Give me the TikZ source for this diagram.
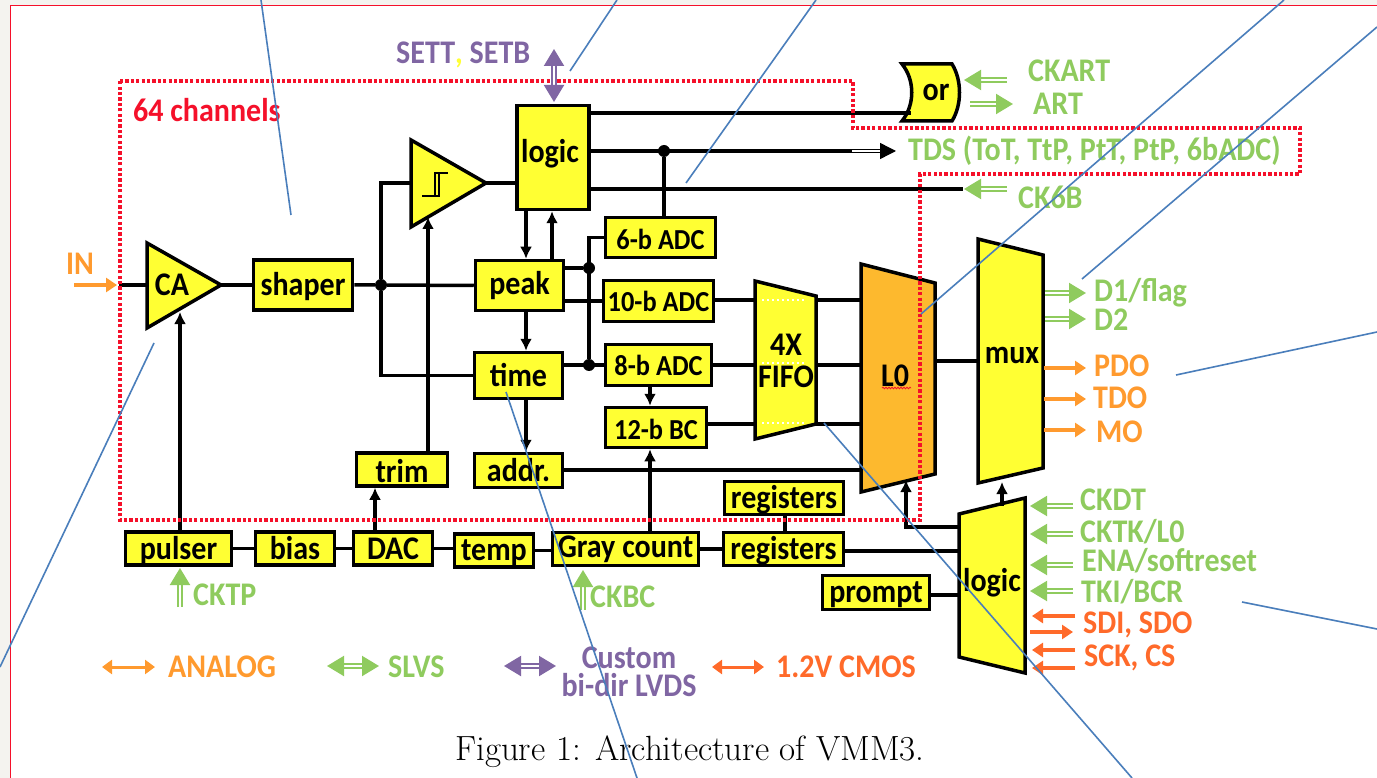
\documentclass[tikz,border=0pt]{standalone}
\usepackage{fontspec}
\usepackage{xcolor}
\usepackage{tikz}
\usetikzlibrary{arrows.meta,decorations.pathmorphing}
\setsansfont[FakeStretch=0.91]{Carlito}
\definecolor{chipyellow}{HTML}{FFFF33}
\definecolor{latchorange}{HTML}{FDB92E}
\definecolor{slvsgreen}{HTML}{8FCB5E}
\definecolor{analogorange}{HTML}{FF9A2E}
\definecolor{cmosorange}{HTML}{FF6A2A}
\definecolor{lvdspurple}{HTML}{8066A3}
\definecolor{channelred}{HTML}{F5102A}
\definecolor{noteblue}{HTML}{4A7EBB}
\definecolor{sheetgrey}{HTML}{F4F3EF}
\newcommand{\lowered}[1]{\raisebox{-2pt}[\height][\depth]{#1}}
\tikzset{
  blockbox/.style={draw=black,fill=chipyellow,line width=3.5pt,inner sep=0pt,font=\sffamily\bfseries\fontsize{33}{33}\selectfont},
  adcbox/.style={blockbox,font=\sffamily\bfseries\fontsize{29}{29}\selectfont},
  blockshape/.style={draw=black,fill=chipyellow,line width=3.5pt,line join=miter},
  blocktext/.style={inner sep=0pt,align=center,font=\sffamily\bfseries\fontsize{33}{28}\selectfont},
  wire/.style={draw=black,line width=3.5pt},
  wirearrow/.style={wire,-{Latex[length=12pt,width=12pt]}},
  junction/.style={circle,fill=black,inner sep=0pt,minimum size=12pt},
  siglabel/.style={anchor=west,inner sep=0pt,font=\sffamily\bfseries\fontsize{33}{33}\selectfont},
  slvsarrow/.style={draw=slvsgreen,line width=2pt,double=white,double distance=2pt,-{Triangle[length=17pt,width=20pt]}},
  slvsboth/.style={slvsarrow,{Triangle[length=17pt,width=20pt]}-{Triangle[length=17pt,width=20pt]}},
  lvdsboth/.style={draw=lvdspurple,line width=2pt,double=white,double distance=2pt,{Triangle[length=17pt,width=20pt]}-{Triangle[length=17pt,width=20pt]}},
  singlearrow/.style={line width=3.5pt,-{Triangle[length=11pt,width=14pt]}},
  singleboth/.style={line width=3pt,{Triangle[length=10pt,width=14pt]}-{Triangle[length=10pt,width=14pt]}},
  noteline/.style={draw=noteblue,line width=1.6pt}
}
\begin{document}
\begin{tikzpicture}[x=1pt,y=-1pt]
  \useasboundingbox (0,0) rectangle (1377,778);
  \fill[sheetgrey] (0,0) rectangle (1377,778);
  \fill[white] (10,6) rectangle (1377,778);
  \draw[channelred,line width=1pt] (10,778) -- (10,6) -- (1377,6);

  % analog shapes
  \draw[blockshape] (147,243) -- (221,285) -- (147,328) -- cycle;
  \draw[blockshape] (411,140) -- (486,183) -- (411,227) -- cycle;
  \draw[black,line width=2.6pt] (422,196) -- (439,196) -- (439,173);
  \draw[black,line width=2.6pt] (435,196) -- (435,173) -- (448,173);
  \draw[blockshape] (755,281) -- (816,296) -- (816,424) -- (755,439) -- cycle;
  \draw[blockshape,fill=latchorange] (861,264) -- (935,283) -- (935,474) -- (861,492) -- cycle;
  \draw[blockshape] (978,239) -- (1043,255) -- (1043,468) -- (978,483) -- cycle;
  \draw[blockshape] (959,514) -- (1025,498) -- (1025,673) -- (959,657) -- cycle;
  \draw[blockshape] (902,64) .. controls (915,80) and (915,105) .. (902,121) -- (952,121)
      .. controls (962,105) and (962,80) .. (952,64) -- cycle;

  \draw[white,line width=2pt,dash pattern=on 2pt off 3pt] (762,300) -- (806,300);
  \draw[white,line width=2pt,dash pattern=on 2pt off 3pt] (762,363) -- (806,363);
  \draw[white,line width=2pt,dash pattern=on 2pt off 3pt] (762,423) -- (806,423);

  % blocks
  \node[blockbox,minimum width=72pt,minimum height=104pt] (chlogic) at (553,157.5) {};
  \node[blocktext] (chlogict) at (550,154) {logic};
  \node[blockbox,minimum width=99pt,minimum height=50pt] (shaper) at (303,285) {\lowered{shaper}};
  \node[blockbox,minimum width=88pt,minimum height=50pt] (peak) at (519.5,285.5) {peak};
  \node[blockbox,minimum width=88pt,minimum height=46pt] (time) at (518.5,375.5) {time};
  \node[adcbox,minimum width=110pt,minimum height=40pt] (adcsix) at (660.5,237.5) {\lowered{6-b ADC}};
  \node[adcbox,minimum width=110pt,minimum height=41pt] (adcten) at (658.5,301) {10-b ADC};
  \node[adcbox,minimum width=106pt,minimum height=41pt] (adceight) at (658.5,365) {8-b ADC};
  \node[adcbox,minimum width=101pt,minimum height=40pt] (bctwelve) at (656,427.5) {\lowered{12-b BC}};
  \node[blockbox,minimum width=91pt,minimum height=33pt] (trim) at (402,469.5) {\lowered{trim}};
  \node[blockbox,minimum width=88pt,minimum height=34pt] (addr) at (518.5,470.5) {addr.};
  \node[blockbox,minimum width=106pt,minimum height=33pt] (pulser) at (178.5,548.5) {\lowered{pulser}};
  \node[blockbox,minimum width=79pt,minimum height=33pt] (bias) at (295,548.5) {bias};
  \node[blockbox,minimum width=79pt,minimum height=33pt] (dac) at (393,548.5) {DAC};
  \node[blockbox,minimum width=79pt,minimum height=33pt] (temp) at (494,550.5) {\lowered{temp}};
  \node[blockbox,minimum width=146pt,minimum height=33pt] (gray) at (625.5,549) {Gray count};
  \node[blockbox,minimum width=119pt,minimum height=33pt] (regtop) at (784,498) {\lowered{registers}};
  \node[blockbox,minimum width=120pt,minimum height=33pt] (regbot) at (783.5,549) {\lowered{registers}};
  \node[blockbox,minimum width=107pt,minimum height=34pt] (prompt) at (876,592.5) {\lowered{prompt}};

  \node[blocktext] (ca) at (172,285) {CA};
  \node[blocktext] (orgate) at (936,92) {or};
  \node[blocktext] (fifo) at (786,365) {\begin{tabular}{@{}c@{}}4X\\[1pt]FIFO\end{tabular}};
  \node[blocktext] (latch) at (895,376) {L0};
  \node[blocktext] (mux) at (1012,355) {mux};
  \node[blocktext] (ctrl) at (992,583) {logic};
  \draw[channelred,line width=0.8pt,decorate,decoration={snake,amplitude=0.8pt,segment length=3pt}] (882,388) -- (911,388);

  % free ends of wires
  \coordinate (cain) at (147,285);
  \coordinate (caout) at (221,285);
  \coordinate (cabot) at (180,312);
  \coordinate (cmpin) at (411,183);
  \coordinate (cmpout) at (486,183);
  \coordinate (cmpbot) at (428,217);
  \coordinate (inleft) at (119,285);
  \coordinate (orin) at (911,113);
  \coordinate (tdsend) at (852,151);
  \coordinate (tdstip) at (896,151);
  \coordinate (sixbend) at (963,189);
  \coordinate (fifotop) at (755,300);
  \coordinate (fifomid) at (755,365);
  \coordinate (fifolow) at (755,424);
  \coordinate (fifotopr) at (816,300);
  \coordinate (fifomidr) at (816,365);
  \coordinate (fifolowr) at (816,424);
  \coordinate (l0topl) at (861,300);
  \coordinate (l0midl) at (861,365);
  \coordinate (l0lowl) at (861,424);
  \coordinate (l0addr) at (861,470);
  \coordinate (l0out) at (935,361);
  \coordinate (muxin) at (978,361);
  \coordinate (l0bot) at (906,480);
  \coordinate (ctrlup) at (1002,506);
  \coordinate (muxbot) at (1002,482);
  \coordinate (ctrlone) at (959,527);
  \coordinate (ctrlbend) at (906,527);
  \coordinate (ctrltwo) at (959,551);
  \coordinate (ctrlthree) at (959,595);

  \node[junction] (splitdot) at (381,285) {};
  \node[junction] (peakdot) at (589,268) {};
  \node[junction] (timedot) at (589,365) {};
  \node[junction] (tdsdot) at (664,151) {};

  % wires
  \draw[wire] (inleft) -- (cain);
  \draw[wire] (caout) -- (shaper.west);
  \draw[wire] (shaper.east) -- (splitdot) -- (peak.west);
  \draw[wire] (cmpin) -| (splitdot);
  \draw[wire] (splitdot) |- (time.west);
  \draw[wire] (cmpout) -- (chlogic.west |- cmpout);
  \draw[wirearrow] (chlogic.south -| 526,0) -- (peak.north -| 526,0);
  \draw[wirearrow] (peak.north -| 552,0) -- (chlogic.south -| 552,0);
  \draw[wirearrow] (peak.south -| 526,0) -- (time.north -| 526,0);
  \draw[wirearrow] (time.south -| 526,0) -- (addr.north -| 526,0);
  \draw[wirearrow] (trim.north -| cmpbot) -- (cmpbot);
  \draw[wirearrow] (pulser.north -| cabot) -- (cabot);
  \draw[wirearrow] (dac.north -| 375,0) -- (trim.south -| 375,0);
  \draw[wire] (peak.east |- peakdot) -- (peakdot);
  \draw[wire] (peak.east |- adcten) -- (adcten.west);
  \draw[wire] (adcsix.west) -| (timedot);
  \draw[wire] (time.east |- timedot) -- (adceight.west |- timedot);
  \draw[wire] (chlogic.east |- orin) -- (orin);
  \draw[wire] (chlogic.east |- tdsdot) -- (tdsend);
  \draw[wire] (chlogic.east |- sixbend) -- (sixbend);
  \draw[wire] (tdsdot) -- (adcsix.north -| tdsdot);
  \draw[black,line width=1.4pt,double=white,double distance=1.4pt,-{Triangle[length=16pt,width=16pt]}] (tdsend) -- (tdstip);
  \draw[wirearrow] (adceight.south -| 650,0) -- (bctwelve.north -| 650,0);
  \draw[wirearrow] (gray.north -| 650,0) -- (bctwelve.south -| 650,0);
  \draw[wire] (adcten.east |- fifotop) -- (fifotop);
  \draw[wire] (adceight.east |- fifomid) -- (fifomid);
  \draw[wire] (bctwelve.east |- fifolow) -- (fifolow);
  \draw[wire] (fifotopr) -- (l0topl);
  \draw[wire] (fifomidr) -- (l0midl);
  \draw[wire] (fifolowr) -- (l0lowl);
  \draw[wire] (addr.east |- l0addr) -- (l0addr);
  \draw[wire] (l0out) -- (muxin);
  \draw[wirearrow] (ctrlup) -- (muxbot);
  \draw[wirearrow] (ctrlone) -- (ctrlbend) -- (l0bot);
  \draw[wire] (pulser.east) -- (bias.west);
  \draw[wire] (bias.east) -- (dac.west);
  \draw[wire] (dac.east) -- (temp.west |- dac);
  \draw[wire] (temp.east) -- (gray.west |- temp);
  \draw[wire] (gray.east) -- (regbot.west);
  \draw[wire] (regbot.east |- ctrltwo) -- (ctrltwo);
  \draw[wire] (regtop.south -| 785,0) -- (regbot.north -| 785,0);
  \draw[wire] (prompt.east |- ctrlthree) -- (ctrlthree);

  % boundary of one channel
  \draw[channelred,line width=3.2pt,dash pattern=on 3.2pt off 2.2pt] (120,81) -- (853,81) -- (853,128) -- (1300,128) -- (1300,174)
      -- (920,174) -- (920,520) -- (120,520) -- cycle;

  % signals
  \draw[analogorange,singlearrow] (74,285) -- (117,285);
  \node[siglabel,analogorange] (inlabel) at (66,264) {IN};
  \node[siglabel,channelred] (channels) at (133,110) {64 channels};
  \node[siglabel,lvdspurple] (sett) at (396,55) {SETT{\color{chipyellow},} SETB};
  \draw[lvdsboth] (554,49) -- (554,102);

  \draw[slvsarrow] (1007,80) -- (964,80);
  \draw[slvsarrow] (970,104) -- (1013,104);
  \draw[slvsarrow] (1007,189) -- (964,189);
  \node[siglabel,slvsgreen] (ckart) at (1028,71) {CKART};
  \node[siglabel,slvsgreen] (art) at (1033,104) {ART};
  \node[siglabel,slvsgreen] (tds) at (908,151) {TDS (ToT, TtP, PtT, PtP, 6bADC)};
  \node[siglabel,slvsgreen] (cksix) at (1018,197) {CK6B};

  \draw[slvsarrow] (1045,293) -- (1086,293);
  \draw[slvsarrow] (1045,319) -- (1086,319);
  \node[siglabel,slvsgreen] (dflag) at (1094,293) {D1/flag};
  \node[siglabel,slvsgreen] (dtwo) at (1094,320) {D2};
  \draw[analogorange,singlearrow] (1044,368) -- (1086,368);
  \draw[analogorange,singlearrow] (1044,399) -- (1086,399);
  \draw[analogorange,singlearrow] (1044,430) -- (1086,430);
  \node[siglabel,analogorange] (pdo) at (1094,366) {PDO};
  \node[siglabel,analogorange] (tdo) at (1093,398) {TDO};
  \node[siglabel,analogorange] (mo) at (1096,432) {MO};

  \draw[slvsarrow] (1073,506) -- (1030,506);
  \draw[slvsarrow] (1073,534) -- (1030,534);
  \draw[slvsarrow] (1073,565) -- (1030,565);
  \draw[slvsarrow] (1073,591) -- (1030,591);
  \node[siglabel,slvsgreen] (ckdt) at (1080,500) {CKDT};
  \node[siglabel,slvsgreen] (cktk) at (1080,532) {CKTK/L0};
  \node[siglabel,slvsgreen] (ena) at (1082,561) {ENA/softreset};
  \node[siglabel,slvsgreen] (tki) at (1081,592) {TKI/BCR};
  \draw[cmosorange,singlearrow] (1075,616) -- (1032,616);
  \draw[cmosorange,singlearrow] (1030,632) -- (1073,632);
  \draw[cmosorange,singlearrow] (1075,650) -- (1032,650);
  \draw[cmosorange,singlearrow] (1075,668) -- (1032,668);
  \node[siglabel,cmosorange] (sdi) at (1083,625) {SDI, SDO};
  \node[siglabel,cmosorange] (sck) at (1084,658) {SCK, CS};

  \draw[slvsarrow] (180,607) -- (180,568);
  \draw[slvsarrow] (583,610) -- (583,570);
  \node[siglabel,slvsgreen] (cktp) at (193,595) {CKTP};
  \node[siglabel,slvsgreen] (ckbc) at (590,597) {CKBC};

  % legend
  \draw[analogorange,singleboth] (102,667) -- (155,667);
  \node[siglabel,analogorange] (analog) at (168,667) {ANALOG};
  \draw[slvsboth] (327,666) -- (379,666);
  \node[siglabel,slvsgreen] (slvs) at (388,667) {SLVS};
  \draw[lvdsboth] (504,666) -- (556,666);
  \node[blocktext,lvdspurple] (custom) at (629,672) {Custom\\bi-dir LVDS};
  \draw[cmosorange,singleboth] (712,667) -- (764,667);
  \node[siglabel,cmosorange] (cmos) at (776,667) {1.2V CMOS};

  \node[anchor=west,inner sep=0pt,font=\rmfamily\fontsize{35}{35}\selectfont] (caption) at (455,752) {Figure 1: Architecture of VMM3.};

  % annotation lines
  \foreach \i/\p/\q in {1/{261,0}/{291,215},2/{617,0}/{570,71},3/{816,0}/{686,183},4/{1284,0}/{921,314},
      5/{1377,27}/{1082,279},6/{1377,332}/{1176,375},7/{1377,629}/{1242,602},8/{824,423}/{1132,778},
      9/{506,392}/{637,778},10/{154,343}/{0,667}}{
    \coordinate (note\i a) at (\p);
    \coordinate (note\i b) at (\q);
    \draw[noteline] (note\i a) -- (note\i b);
  }
\end{tikzpicture}
\end{document}
